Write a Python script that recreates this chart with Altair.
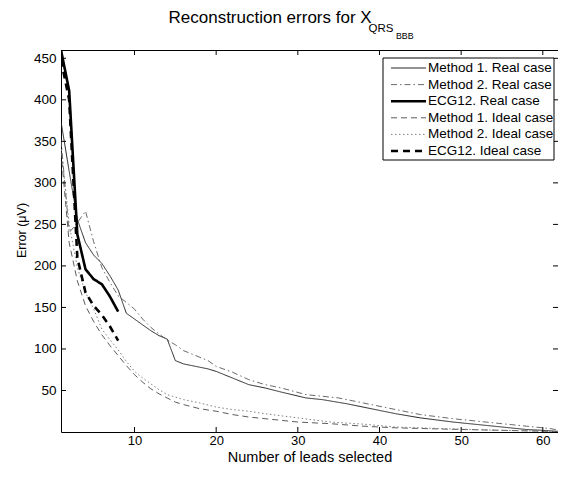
import altair as alt
import pandas as pd

# ---------------- data ----------------
series_names = ["Method 1. Real case", "Method 2. Real case", "ECG12. Real case",
                "Method 1. Ideal case", "Method 2. Ideal case", "ECG12. Ideal case"]

m1_real_x = [1, 2, 3, 4, 5, 6, 7, 8, 9, 10, 11, 12, 13, 14, 15, 16, 17, 18, 19, 20, 22, 24, 26, 28,
             31, 33, 36, 38, 40, 42, 45, 49, 52, 55, 58, 60, 63]
m1_real_y = [374, 314, 256, 228, 213, 203, 188, 171, 143, 136, 129, 122, 116, 112, 86, 82, 80, 78, 76, 73,
             65, 57, 53, 48, 41, 39, 34, 30, 26, 22, 17, 12, 9, 6, 3, 2, 0]

m2_real_x = [1, 2, 3, 4, 5, 6, 7, 8, 9, 10, 11, 12, 13, 14, 15, 16, 17, 18, 19, 20, 22, 24, 26, 28,
             31, 35, 38, 42, 45, 49, 54, 58, 61, 63]
m2_real_y = [352, 240, 252, 266, 229, 198, 180, 164, 156, 148, 136, 126, 118, 111, 105, 98, 94, 90, 86, 79,
             72, 63, 57, 53, 45, 41, 35, 27, 21, 16, 11, 7, 4, 0]

ecg_real_x = [1, 2, 3, 4, 5, 6, 7, 8]
ecg_real_y = [460, 411, 238, 196, 184, 178, 163, 145]

m1_ideal_x = [1, 2, 3, 4, 5, 6, 7, 8, 9, 10, 11, 12, 13, 14, 15, 16, 18, 20, 22, 24, 26, 30, 34, 38,
              42, 48, 55, 60, 63]
m1_ideal_y = [338, 228, 182, 152, 133, 117, 104, 92, 80, 69, 60, 52, 46, 41, 36, 33, 28, 25, 21, 18,
              16, 12, 10, 7, 5, 3.5, 2, 1, 0]

m2_ideal_x = [1, 2, 3, 4, 5, 6, 7, 8, 9, 10, 11, 12, 13, 14, 16, 18, 20, 22, 24, 26, 30, 34, 38, 42,
              48, 55, 60, 63]
m2_ideal_y = [345, 250, 198, 168, 148, 124, 111, 99, 85, 73, 65, 58, 51, 45, 39, 35, 30, 27, 25, 22,
              17, 12, 9.5, 6, 4, 2, 1, 0]

ecg_ideal_x = [1, 2, 3, 4, 5, 6, 7, 8]
ecg_ideal_y = [448, 400, 210, 168, 152, 141, 127, 110]

x_ticks = [10, 20, 30, 40, 50, 60]
y_ticks = [50, 100, 150, 200, 250, 300, 350, 400, 450]

title_main = "Reconstruction errors for X"
title_sub1 = "QRS"
title_sub2 = "BBB"
x_title = "Number of leads selected"
y_title = "Error (\u03bcV)"

# ---------------- styles ----------------
colors = ["#262626", "#5a5a5a", "#000000", "#4a4a4a", "#808080", "#000000"]
dashes = [[1, 0], [6, 3, 1.5, 3], [1, 0], [6, 4], [1.5, 2.5], [7, 5]]
widths = [1.0, 0.9, 2.6, 0.9, 1.0, 2.6]

all_x = [m1_real_x, m2_real_x, ecg_real_x, m1_ideal_x, m2_ideal_x, ecg_ideal_x]
all_y = [m1_real_y, m2_real_y, ecg_real_y, m1_ideal_y, m2_ideal_y, ecg_ideal_y]

rows = []
for name, xs, ys in zip(series_names, all_x, all_y):
    for xv, yv in zip(xs, ys):
        rows.append({"series": name, "n": xv, "err": yv})
df = pd.DataFrame(rows)

W, H = 497, 382
FONT = "Liberation Sans"

xscale = alt.Scale(domain=[1, 61.86], nice=False, zero=False)
yscale = alt.Scale(domain=[0, 460], nice=False, zero=False)
cscale = alt.Scale(domain=series_names, range=colors)
dscale = alt.Scale(domain=series_names, range=dashes)
wscale = alt.Scale(type="ordinal", domain=series_names, range=widths)

lines = alt.Chart(df).mark_line(clip=True).encode(
    x=alt.X("n:Q", scale=xscale,
            axis=alt.Axis(values=x_ticks, title=x_title, labelPadding=2, labelFontSize=13,
                          titleY=29.5, titleBaseline="alphabetic", titleFontSize=14.5)),
    y=alt.Y("err:Q", scale=yscale,
            axis=alt.Axis(values=y_ticks, title=y_title, labelPadding=5, titleX=-40, titleY=180,
                          titleAngle=270, titleBaseline="middle", titleAlign="center",
                          titleFontSize=12.5)),
    color=alt.Color("series:N", scale=cscale, legend=None),
    strokeDash=alt.StrokeDash("series:N", scale=dscale, legend=None),
    strokeWidth=alt.StrokeWidth("series:N", scale=wscale, legend=None),
)

xt = pd.DataFrame({"v": x_ticks})
yt = pd.DataFrame({"v": y_ticks})
tick_b = alt.Chart(xt).mark_rule(color="black", strokeWidth=1).encode(
    x=alt.X("v:Q", scale=xscale, axis=None), y=alt.value(H), y2=alt.value(H - 5))
tick_t = alt.Chart(xt).mark_rule(color="black", strokeWidth=1).encode(
    x=alt.X("v:Q", scale=xscale, axis=None), y=alt.value(0), y2=alt.value(5))
tick_l = alt.Chart(yt).mark_rule(color="black", strokeWidth=1).encode(
    y=alt.Y("v:Q", scale=yscale, axis=None), x=alt.value(0), x2=alt.value(5))
tick_r = alt.Chart(yt).mark_rule(color="black", strokeWidth=1).encode(
    y=alt.Y("v:Q", scale=yscale, axis=None), x=alt.value(W), x2=alt.value(W - 5))
top_border = alt.Chart(pd.DataFrame({"a": [0]})).mark_rule(color="black", strokeWidth=1).encode(
    x=alt.value(0), x2=alt.value(W), y=alt.value(0.5))

# legend (drawn with the same color / dash / width scales)
leg_df = pd.DataFrame({"series": series_names, "row": list(range(len(series_names)))})
row_scale = alt.Scale(domain=[0, 5], range=[18, 101])
leg_box = alt.Chart(pd.DataFrame({"a": [0]})).mark_rect(
    fill="white", stroke="black", strokeWidth=1).encode(
    x=alt.value(322), x2=alt.value(493), y=alt.value(8), y2=alt.value(110))
leg_lines = alt.Chart(leg_df).mark_rule().encode(
    x=alt.value(330), x2=alt.value(365),
    y=alt.Y("row:Q", scale=row_scale, axis=None),
    color=alt.Color("series:N", scale=cscale, legend=None),
    strokeDash=alt.StrokeDash("series:N", scale=dscale, legend=None),
    strokeWidth=alt.StrokeWidth("series:N", scale=wscale, legend=None),
)
leg_text = alt.Chart(leg_df).mark_text(
    align="left", baseline="middle", font=FONT, fontSize=13.5, color="black").encode(
    x=alt.value(367), y=alt.Y("row:Q", scale=row_scale, axis=None), text="series:N")

# title with subscripts
t_main = alt.Chart(pd.DataFrame({"t": [title_main]})).mark_text(
    align="left", baseline="alphabetic", font=FONT, fontSize=17, color="black").encode(
    x=alt.value(107.5), y=alt.value(-27.3), text="t:N")
t_sub1 = alt.Chart(pd.DataFrame({"t": [title_sub1]})).mark_text(
    align="left", baseline="alphabetic", font=FONT, fontSize=11.5, color="black").encode(
    x=alt.value(307.5), y=alt.value(-18.3), text="t:N")
t_sub2 = alt.Chart(pd.DataFrame({"t": [title_sub2]})).mark_text(
    align="left", baseline="alphabetic", font=FONT, fontSize=8.8, color="black").encode(
    x=alt.value(335), y=alt.value(-11), text="t:N")

chart = alt.layer(
    lines, tick_b, tick_t, tick_l, tick_r, top_border, leg_box, leg_lines, leg_text,
    t_main, t_sub1, t_sub2
).resolve_scale(y="independent").resolve_axis(x="independent").properties(
    width=W, height=H,
    padding={"left": 53, "top": 42, "right": 0, "bottom": 33},
    autosize=alt.AutoSizeParams(type="none"),
).configure_view(
    strokeWidth=0
).configure_axis(
    labelFont=FONT, labelFontSize=13.5, labelColor="black",
    titleFont=FONT, titleFontWeight="normal", titleColor="black",
    domain=True, domainColor="black", domainWidth=1,
    ticks=False, tickSize=0, grid=False,
)

chart.save("out.html", embed_options={"renderer": "svg", "actions": False})
